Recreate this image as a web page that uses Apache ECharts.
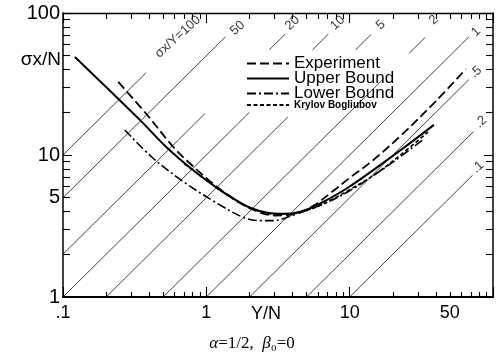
<!DOCTYPE html>
<html>
<head>
<meta charset="utf-8">
<title>sigma_x/N versus Y/N</title>
<script src="https://cdn.jsdelivr.net/npm/echarts@6/dist/echarts.min.js"></script>
<style>
  html, body { margin: 0; padding: 0; background: #fff; }
  #chart { width: 499px; height: 358px; }
</style>
</head>
<body>
<div id="chart"></div>
<script>
// ============================================
// Data (Y/N on x, sigma_x/N on y)
// ============================================
const experimentX = [0.243, 0.386, 0.588, 0.8, 1.12, 1.6, 2.2, 3.0, 4.0, 5.5, 7.7, 10, 14, 22.6, 40, 64.6];
const experimentY = [32.7, 19.2, 11.4, 8.4, 6.25, 4.8, 4.05, 3.75, 3.8, 4.35, 5.6, 6.9, 8.9, 13.6, 24, 40.3];

const upperX = [0.121, 0.345, 0.534, 0.811, 1.19, 1.54, 2.02, 2.67, 3.45, 4.52, 5.96, 10, 22.6, 38.7];
const upperY = [49, 17.6, 11.2, 7.8, 5.85, 4.95, 4.25, 3.92, 3.85, 3.99, 4.45, 6.0, 10.8, 16.3];

const lowerX = [0.27, 0.42, 0.69, 1.19, 1.83, 2.4, 3.0, 3.6, 4.3, 6, 10, 20, 33];
const lowerY = [15.0, 9.6, 6.5, 4.57, 3.62, 3.45, 3.45, 3.62, 3.88, 4.35, 5.6, 8.9, 13.0];

const krylovX = [0.7, 1.12, 1.6, 2.2, 3.0, 4.0, 5.5, 7.5, 10, 15, 22.6, 35.2];
const krylovY = [8.7, 6.1, 4.8, 4.1, 3.82, 3.85, 4.2, 4.85, 5.7, 7.3, 10.0, 14.5];

// Lines of constant sigma_x/Y, with the stretches of Y/N where each is drawn
const ratioValues = [100, 50, 20, 10, 5, 2, 1, 0.5, 0.2, 0.1];
const ratioSegments = [
    [[0.1, 0.38]],
    [[0.1, 1.36]],
    [[0.1, 0.98], [2.75, 3.55]],
    [[0.1, 2.0], [5.5, 7.1]],
    [[0.2, 3.7], [11, 14.1]],
    [[0.5, 17.2], [25.9, 33.5]],
    [[1, 68]],
    [[2, 68]],
    [[5, 73]],
    [[10, 72]]
];
const ratioLabels = ['σx/Y=100', '50', '20', '10', '5', '2', '1', '.5', '.2', '.1'];
const ratioLabelX = [0.632, 1.65, 3.99, 8.24, 16.5, 38.7, 76.1, 76.1, 82.4, 78.5];
const ratioLabelY = [68, 78.4, 85.1, 85.1, 82.3, 89.3, 73.5, 38.4, 17.1, 8.23];

// Axis ticks and labels
const xMajorTicks = [0.1, 1, 10, 100];
const xMinorTicks = [0.2, 0.3, 0.4, 0.5, 0.6, 0.7, 0.8, 0.9, 2, 3, 4, 5, 6, 7, 8, 9, 20, 30, 40, 50, 60, 70, 80, 90];
const xTickLabels = [0.1, 1, 10, 50];
const yMajorTicks = [1, 10, 100];
const yMinorTicks = [2, 3, 4, 5, 6, 7, 8, 9, 20, 30, 40, 50, 60, 70, 80, 90];
const yTickLabels = [1, 5, 10, 100];

const curveNames = ['Experiment', 'Upper Bound', 'Lower Bound', 'Krylov Bogliubov'];

// ============================================
// Helpers
// ============================================
const SANS = 'Liberation Sans';
const zip = (xs, ys) => xs.map((x, i) => [x, ys[i]]);

function logAxis(min, max, position, tick, label, line) {
    return {
        type: 'log',
        logBase: 10,
        min: min,
        max: max,
        position: position,
        splitLine: { show: false },
        axisLine: line ? { show: true, lineStyle: { color: '#000', width: line } } : { show: false },
        axisTick: tick ? {
            show: true, inside: true, length: tick.length, customValues: tick.values,
            lineStyle: { color: '#000', width: 1.1 }
        } : { show: false },
        axisLabel: label || { show: false }
    };
}

function curve(name, data, dash, width) {
    return {
        name: name,
        type: 'line',
        data: data,
        symbol: 'none',
        smooth: 0.35,
        z: 5,
        silent: true,
        lineStyle: { color: '#000', width: width, type: dash }
    };
}

// ============================================
// Build options
// ============================================
const ratioSeries = [];
ratioValues.forEach((c, i) => {
    ratioSegments[i].forEach(seg => {
        ratioSeries.push({
            type: 'line',
            data: seg.map(x => [x, c * x]),
            symbol: 'none',
            silent: true,
            z: 2,
            lineStyle: { color: '#111', width: 0.8 }
        });
    });
});

const labelSeries = {
    type: 'scatter',
    data: ratioLabelX.map((x, i) => ({ value: [x, ratioLabelY[i]], name: ratioLabels[i] })),
    symbolSize: 1,
    silent: true,
    itemStyle: { color: 'rgba(0,0,0,0)' },
    label: {
        show: true,
        position: 'inside',
        rotate: 42,
        formatter: p => p.name,
        color: '#000',
        fontFamily: SANS,
        fontSize: 13
    },
    z: 3
};

const option = {
    animation: false,
    backgroundColor: '#fff',
    grid: { left: 63, right: 6, top: 13, bottom: 61 },
    xAxis: [
        logAxis(0.1, 100, 'bottom', { length: 10, values: xMajorTicks }, {
            show: true,
            customValues: xTickLabels,
            formatter: v => (v === 0.1 ? '.1' : String(v)),
            margin: 7,
            color: '#000',
            fontFamily: SANS,
            fontSize: 18
        }, 2),
        logAxis(0.1, 100, 'bottom', { length: 5, values: xMinorTicks }),
        logAxis(0.1, 100, 'top', { length: 10, values: xMajorTicks }, null, 1.4),
        logAxis(0.1, 100, 'top', { length: 6, values: xMinorTicks })
    ],
    yAxis: [
        logAxis(1, 100, 'left', { length: 9, values: yMajorTicks }, {
            show: true,
            customValues: yTickLabels,
            margin: 3,
            color: '#000',
            fontFamily: SANS,
            fontSize: 20
        }, 1.5),
        logAxis(1, 100, 'left', { length: 7, values: yMinorTicks }),
        logAxis(1, 100, 'right', { length: 9, values: yMajorTicks }, null, 1.5),
        logAxis(1, 100, 'right', { length: 7, values: yMinorTicks })
    ],
    legend: {
        data: curveNames,
        orient: 'vertical',
        left: 246,
        top: 55,
        itemWidth: 42,
        itemHeight: 10,
        itemGap: -2,
        padding: 0,
        selectedMode: false,
        itemStyle: { opacity: 0 },
        formatter: name => (name === 'Krylov Bogliubov' ? '{s|' + name + '}' : '{b|' + name + '}'),
        textStyle: {
            color: '#000',
            rich: {
                b: { color: '#000', fontFamily: SANS, fontSize: 17, lineHeight: 15 },
                s: { color: '#000', fontFamily: SANS, fontSize: 10, fontWeight: 'bold', lineHeight: 12 }
            }
        }
    },
    graphic: [
        {
            type: 'text', x: 61, y: 60,
            style: { text: 'σx/N', fill: '#000', font: '19px "Liberation Sans"', align: 'right', verticalAlign: 'middle' }
        },
        {
            type: 'text', x: 266, y: 314,
            style: { text: 'Y/N', fill: '#000', font: '18px "Liberation Sans"', align: 'center', verticalAlign: 'middle' }
        },
        {
            type: 'text', x: 252, y: 344,
            style: {
                text: '{i|α}=1/2,  {i|β}₀=0',
                fill: '#000',
                font: '17px "Liberation Serif"',
                align: 'center',
                verticalAlign: 'middle',
                rich: { i: { font: 'italic 17px "Liberation Serif"', fill: '#000' } }
            }
        }
    ],
    series: ratioSeries.concat([
        labelSeries,
        curve('Experiment', zip(experimentX, experimentY), [9, 4], 1.8),
        curve('Upper Bound', zip(upperX, upperY), 'solid', 2),
        curve('Lower Bound', zip(lowerX, lowerY), [9, 3, 2, 3], 1.6),
        curve('Krylov Bogliubov', zip(krylovX, krylovY), [4, 2.5], 1.6)
    ])
};

const chart = echarts.init(document.getElementById('chart'), null, { renderer: 'canvas' });
chart.setOption(option);
</script>
</body>
</html>
